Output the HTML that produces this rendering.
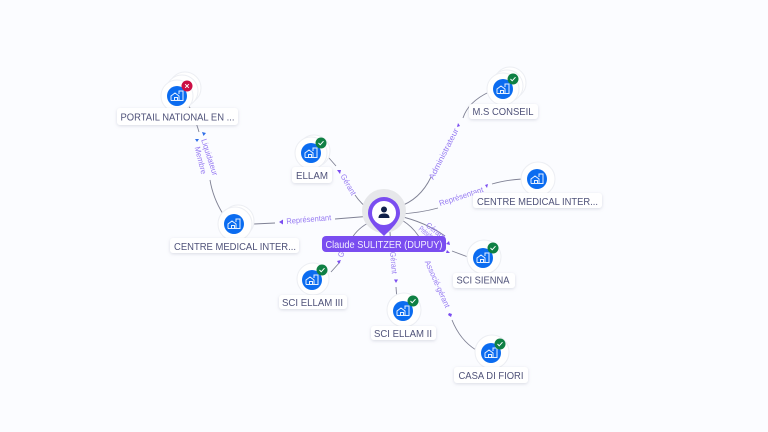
<!DOCTYPE html>
<html><head><meta charset="utf-8"><style>
html,body{margin:0;padding:0;background:#fbfcff;width:768px;height:432px;overflow:hidden}
svg{display:block}
text{font-family:"Liberation Sans",sans-serif}
.n{font-size:10px;fill:#4f5279;text-anchor:middle}
.e{font-size:8px;fill:#967af2;text-anchor:middle}
.l{fill:none;stroke:#7f8194;stroke-width:.9}
.lb{fill:#fff;filter:url(#s)}
.c{fill:#fff;stroke:#eceef3;stroke-width:1}
</style></head><body>
<svg width="768" height="432" viewBox="0 0 768 432" xmlns="http://www.w3.org/2000/svg">
<defs>
<filter id="s" x="-20%" y="-40%" width="140%" height="200%"><feDropShadow dx="0" dy="1" stdDeviation="1.5" flood-color="#8a8fa8" flood-opacity=".3"/></filter>
<g id="h"><circle r="10" fill="#0b6cf0"/><path d="M-6 4.500V0L-2 -3L2 0V4.500M-2.500 4.500V1.500H.5V4.500M2 -2V-5H6V4.500H-6" fill="none" stroke="#e6f0ff" stroke-width="1"/></g>
<g id="ok"><circle r="5.500" fill="#0f8044"/><path d="M-2.500 0L-.8 1.800L2.500 -1.800" fill="none" stroke="#fff" stroke-width="1"/></g>
<g id="no"><circle r="5.500" fill="#cc0f45"/><path d="M-1.800 -1.800L1.800 1.800M1.800 -1.800L-1.800 1.800" fill="none" stroke="#fff" stroke-width="1"/></g>
</defs>
<rect width="768" height="432" fill="#fbfcff"/>

<!-- connectors -->
<path class="l" d="M189 106Q195 118 199 132M210 180Q213 198 223 214"/>
<path class="l" d="M254 224L275 223"/>
<path class="l" d="M335 219L372 216"/>
<path class="l" d="M329 158L336 166M355 195Q361 204 370 210"/>
<path class="l" d="M398 207Q420 200 431 177M463 118Q468 102 489 92"/>
<path class="l" d="M399 214Q420 213 438 208M492 184Q505 180 522 179"/>
<path class="l" d="M399 216Q425 222 445 236M452 251L468 257"/>
<path class="l" d="M398 218Q418 228 425 250M452 320Q460 340 476 350"/>
<path class="l" d="M396 287L397 300"/>
<path class="l" d="M390 232L391 250"/>
<path class="l" d="M370 222Q358 228 352 238M340 262L331 272"/>

<!-- arrowheads -->
<g fill="#7b4df0">
<path d="M202 132l4 1-2.500 3z" fill="#2f6fe8"/><path d="M195 139l4 0-2 3z" fill="#2f6fe8"/>
<path d="M279 222l4-2.500v5z"/>
<path d="M337 170l4 0-1 4z"/>
<path d="M458 123l2 3-3 1z"/>
<path d="M488 184l-1 4-2-3z"/>
<path d="M449 241l1 4-4-1z"/>
<path d="M447 250l-1 3 4 0z"/>
<path d="M449 313l3 1-1 3-3-2z"/>
<path d="M394 279.500h4l-2 3.500z"/>
<path d="M341 260l-2 4-2-3z"/>
</g>

<!-- edge labels -->
<text class="e" transform="translate(207 158) rotate(72)" textLength="38" lengthAdjust="spacingAndGlyphs">Liquidateur</text>
<text class="e" transform="translate(198 161) rotate(76)" textLength="28" lengthAdjust="spacingAndGlyphs">Membre</text>
<text class="e" transform="translate(309 222) rotate(-5)" textLength="45" lengthAdjust="spacingAndGlyphs">Représentant</text>
<text class="e" transform="translate(346 186) rotate(60)" textLength="23" lengthAdjust="spacingAndGlyphs">Gérant</text>
<text class="e" transform="translate(446 155) rotate(-63)" textLength="56" lengthAdjust="spacingAndGlyphs">Administrateur</text>
<text class="e" transform="translate(462 199) rotate(-18)" textLength="46" lengthAdjust="spacingAndGlyphs">Représentant</text>
<text class="e" transform="translate(434 233) rotate(38)" textLength="22" lengthAdjust="spacingAndGlyphs">Gérant</text>
<text class="e" transform="translate(426 236) rotate(38)" textLength="20" lengthAdjust="spacingAndGlyphs">Président</text>
<text class="e" transform="translate(435 285) rotate(66)" textLength="51" lengthAdjust="spacingAndGlyphs">Associé-gérant</text>
<text class="e" transform="translate(391 263) rotate(85)" textLength="22" lengthAdjust="spacingAndGlyphs">Gérant</text>
<text class="e" transform="translate(347 248) rotate(-65)" textLength="22" lengthAdjust="spacingAndGlyphs">Gérant</text>

<!-- PORTAIL -->
<circle class="c" cx="185" cy="88" r="16"/><circle class="c" cx="182" cy="91" r="16"/><circle class="c" cx="177" cy="96" r="16"/>
<use href="#h" x="177" y="96"/><use href="#no" x="187" y="86"/>
<rect class="lb" x="117" y="108" width="121" height="17" rx="3"/>
<text class="n" x="177.500" y="120.500" textLength="114" lengthAdjust="spacingAndGlyphs">PORTAIL NATIONAL EN ...</text>

<!-- ELLAM -->
<circle class="c" cx="314" cy="151" r="16"/><circle class="c" cx="311" cy="153" r="16"/>
<use href="#h" x="311" y="153"/><use href="#ok" x="321" y="143"/>
<rect class="lb" x="292" y="167" width="40" height="16" rx="3"/>
<text class="n" x="312" y="179" textLength="32" lengthAdjust="spacingAndGlyphs">ELLAM</text>

<!-- CENTRE left -->
<circle class="c" cx="238" cy="221" r="16"/><circle class="c" cx="235" cy="224" r="17"/>
<use href="#h" x="234" y="224"/>
<rect class="lb" x="170" y="238" width="129" height="15" rx="3"/>
<text class="n" x="235" y="250" textLength="122" lengthAdjust="spacingAndGlyphs">CENTRE MEDICAL INTER...</text>

<!-- SCI ELLAM III -->
<circle class="c" cx="313" cy="279" r="16"/>
<use href="#h" x="312" y="280"/><use href="#ok" x="322" y="270"/>
<rect class="lb" x="279" y="295" width="68" height="14" rx="3"/>
<text class="n" x="312.500" y="306" textLength="61" lengthAdjust="spacingAndGlyphs">SCI ELLAM III</text>

<!-- SCI ELLAM II -->
<circle class="c" cx="404" cy="310" r="17"/>
<use href="#h" x="403" y="311"/><use href="#ok" x="413" y="301"/>
<rect class="lb" x="371" y="326" width="65" height="14" rx="3"/>
<text class="n" x="403" y="337" textLength="58" lengthAdjust="spacingAndGlyphs">SCI ELLAM II</text>

<!-- SCI SIENNA -->
<circle class="c" cx="484" cy="257" r="17"/>
<use href="#h" x="483" y="258"/><use href="#ok" x="493" y="248"/>
<rect class="lb" x="453" y="273" width="62" height="15" rx="3"/>
<text class="n" x="483" y="283.500" textLength="53" lengthAdjust="spacingAndGlyphs">SCI SIENNA</text>

<!-- CASA -->
<circle class="c" cx="492" cy="352" r="17"/>
<use href="#h" x="491" y="353"/><use href="#ok" x="500" y="344"/>
<rect class="lb" x="454" y="367" width="74" height="16" rx="3"/>
<text class="n" x="491" y="379" textLength="65" lengthAdjust="spacingAndGlyphs">CASA DI FIORI</text>

<!-- M.S CONSEIL -->
<circle class="c" cx="510" cy="83" r="16"/><circle class="c" cx="507" cy="86" r="16"/><circle class="c" cx="503" cy="89" r="16"/>
<use href="#h" x="503" y="89"/><use href="#ok" x="513" y="79"/>
<rect class="lb" x="469" y="104" width="69" height="15" rx="3"/>
<text class="n" x="503" y="115" textLength="61" lengthAdjust="spacingAndGlyphs">M.S CONSEIL</text>

<!-- CENTRE right -->
<circle class="c" cx="538" cy="179" r="17"/>
<use href="#h" x="537" y="179"/>
<rect class="lb" x="473" y="193" width="129" height="15" rx="3"/>
<text class="n" x="537.500" y="205" textLength="121" lengthAdjust="spacingAndGlyphs">CENTRE MEDICAL INTER...</text>

<!-- central pin -->
<circle cx="384" cy="211" r="22" fill="#e6e7ea"/>
<path d="M368 213A16 16 0 1 1 400 213C400 222 390 230 384 236C378 230 368 222 368 213Z" fill="#7a4df0"/>
<circle cx="384" cy="213" r="12" fill="#fff"/>
<circle cx="384" cy="209.500" r="3" fill="#10204a"/>
<path d="M378.500 218C378.500 214.500 381 213.500 384 213.500S389.500 214.500 389.500 218Z" fill="#10204a"/>
<rect x="322" y="236" width="124" height="16" rx="4" fill="#7a4df0"/>
<text x="384" y="248" font-size="10" fill="#f3efff" text-anchor="middle" textLength="117" lengthAdjust="spacingAndGlyphs">Claude SULITZER (DUPUY)</text>
</svg>
</body></html>
